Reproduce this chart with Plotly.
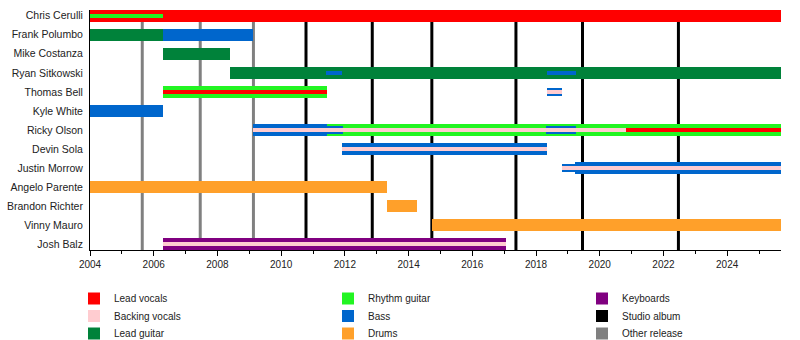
import plotly.graph_objects as go

members = ["Chris Cerulli", "Frank Polumbo", "Mike Costanza", "Ryan Sitkowski",
           "Thomas Bell", "Kyle White", "Ricky Olson", "Devin Sola",
           "Justin Morrow", "Angelo Parente", "Brandon Richter", "Vinny Mauro",
           "Josh Balz"]

START = 2004.0
END = 2025.69

# (member, start, end) -- main (full-height) bars
lead_vocals_main = [("Chris Cerulli", 2004.0, END)]
lead_guitar_main = [("Frank Polumbo", 2004.0, 2006.3),
                    ("Mike Costanza", 2006.3, 2008.41),
                    ("Ryan Sitkowski", 2008.41, END)]
rhythm_guitar_main = [("Thomas Bell", 2006.3, 2011.43),
                      ("Ricky Olson", 2011.43, END)]
bass_main = [("Frank Polumbo", 2006.3, 2009.13),
             ("Kyle White", 2004.0, 2006.3),
             ("Ricky Olson", 2009.13, 2011.43),
             ("Devin Sola", 2011.92, 2018.35),
             ("Justin Morrow", 2019.23, END)]
drums_main = [("Angelo Parente", 2004.0, 2013.31),
              ("Brandon Richter", 2013.31, 2014.26),
              ("Vinny Mauro", 2014.75, END)]
keyboards_main = [("Josh Balz", 2006.3, 2017.06)]

# secondary (medium-height) bars
bass_secondary = [("Thomas Bell", 2018.33, 2018.83),
                  ("Ricky Olson", 2011.43, 2011.93),
                  ("Ricky Olson", 2018.32, 2019.25),
                  ("Justin Morrow", 2018.81, 2019.23)]

# inner (thin) bars
rhythm_guitar_inner = [("Chris Cerulli", 2004.0, 2006.3)]
bass_inner = [("Ryan Sitkowski", 2011.42, 2011.92),
              ("Ryan Sitkowski", 2018.34, 2019.25)]
backing_vocals_inner = [("Thomas Bell", 2018.33, 2018.83),
                        ("Ricky Olson", 2009.13, 2020.82),
                        ("Devin Sola", 2011.92, 2018.35),
                        ("Justin Morrow", 2018.81, END),
                        ("Josh Balz", 2006.3, 2017.06)]
lead_vocals_inner = [("Thomas Bell", 2006.3, 2011.43),
                     ("Ricky Olson", 2020.82, END)]

studio_albums = [2010.78, 2012.86, 2014.73, 2017.37, 2019.46, 2022.47]
other_releases = [2005.64, 2007.46, 2009.13]

year_ticks = list(range(2004, 2025, 2))
minor_ticks = list(range(2004, 2026))

# legend entries, column by column
roles = ["Lead vocals", "Backing vocals", "Lead guitar",
         "Rhythm guitar", "Bass", "Drums",
         "Keyboards", "Studio album", "Other release"]

colors = {
    "Lead vocals": "#FF0000",
    "Backing vocals": "#FFCCD0",
    "Lead guitar": "#00823A",
    "Rhythm guitar": "#22F522",
    "Bass": "#0066CC",
    "Drums": "#FFA02A",
    "Keyboards": "#800080",
    "Studio album": "#000000",
    "Other release": "#808080",
}

# one legend per entry so the 3x3 grid can be placed exactly
legend_ids = {r: ("legend" if i == 0 else f"legend{i + 1}") for i, r in enumerate(roles)}
COL_X = [74, 328, 582]
ROW_Y = [298.5, 316, 333.5]

W_MAIN, W_MID, W_THIN = 0.61, 0.42, 0.22

layers = [
    ("Lead vocals", lead_vocals_main, W_MAIN),
    ("Lead guitar", lead_guitar_main, W_MAIN),
    ("Rhythm guitar", rhythm_guitar_main, W_MAIN),
    ("Bass", bass_main, W_MAIN),
    ("Drums", drums_main, W_MAIN),
    ("Keyboards", keyboards_main, W_MAIN),
    ("Bass", bass_secondary, W_MID),
    ("Rhythm guitar", rhythm_guitar_inner, W_THIN),
    ("Bass", bass_inner, W_THIN),
    ("Backing vocals", backing_vocals_inner, W_THIN),
    ("Lead vocals", lead_vocals_inner, W_THIN),
]

fig = go.Figure()
shown = set()
for role, periods, w in layers:
    fig.add_trace(go.Bar(
        orientation="h",
        y=[p[0] for p in periods],
        base=[p[1] for p in periods],
        x=[p[2] - p[1] for p in periods],
        width=w,
        marker=dict(color=colors[role], line=dict(width=0)),
        name=role,
        legendgroup=role,
        legend=legend_ids[role],
        showlegend=role not in shown,
        hovertemplate="%{y}: " + role + "<extra></extra>",
    ))
    shown.add(role)

# legend entries for release markers
for role in ["Studio album", "Other release"]:
    fig.add_trace(go.Bar(
        orientation="h", y=[None], x=[None],
        marker=dict(color=colors[role], line=dict(width=0)),
        name=role, legend=legend_ids[role], showlegend=True,
    ))

for v in studio_albums:
    fig.add_vline(x=v, line=dict(color=colors["Studio album"], width=3), layer="below")
for v in other_releases:
    fig.add_vline(x=v, line=dict(color=colors["Other release"], width=3), layer="below")

legend_layout = {}
for i, role in enumerate(roles):
    col, row = divmod(i, 3)
    legend_layout[legend_ids[role]] = dict(
        orientation="v", xref="container", yref="container",
        x=COL_X[col] / 800, y=1 - ROW_Y[row] / 340,
        xanchor="left", yanchor="middle",
        font=dict(family="Liberation Sans, Arial, sans-serif", size=10, color="#222"),
        bgcolor="rgba(0,0,0,0)", borderwidth=0,
    )

fig.update_layout(
    width=800, height=340,
    margin=dict(l=90, r=19, t=10, b=90, autoexpand=False),
    paper_bgcolor="white", plot_bgcolor="white",
    barmode="overlay", bargap=0,
    font=dict(family="Liberation Sans, Arial, sans-serif", size=10, color="#222"),
    xaxis=dict(
        range=[START, END], showgrid=False, zeroline=False,
        showline=True, linecolor="black", linewidth=1,
        tickmode="array", tickvals=year_ticks, ticktext=[str(y) for y in year_ticks],
        ticks="outside", ticklen=5, tickcolor="black",
        minor=dict(tickmode="array", tickvals=minor_ticks, ticks="outside",
                   ticklen=3, tickcolor="black"),
        tickfont=dict(size=10, color="#222"),
    ),
    yaxis=dict(
        type="category", categoryorder="array", categoryarray=members,
        range=[12.3, -0.3], showgrid=False, zeroline=False,
        showline=True, linecolor="black", linewidth=1,
        ticks="", ticklabelstandoff=4,
        tickfont=dict(size=10.5, color="#222"),
    ),
    **legend_layout,
)

fig.write_html("out.html")
